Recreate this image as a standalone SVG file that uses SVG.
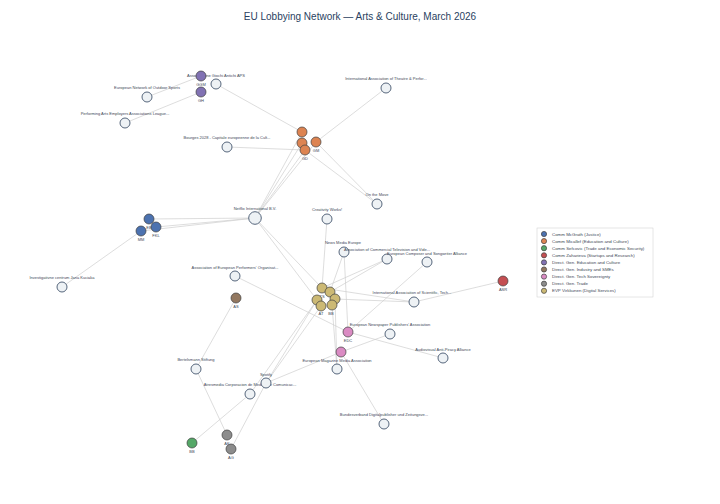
<svg xmlns="http://www.w3.org/2000/svg" width="720" height="504" viewBox="0 0 720 504">
<style>
text{font-family:"Liberation Sans",Arial,sans-serif;}
.title{font-size:10px;fill:#2a3f5f;text-anchor:middle;}
.lbl{font-size:4px;fill:#3d4756;text-anchor:middle;}
.leg{font-size:4.4px;fill:#3d4756;}
.org{fill:#eef2f5;stroke:#56667c;stroke-width:1;}
.off{stroke:#3f3f3f;stroke-width:0.7;}
#edges line{stroke:#cfcfcf;stroke-width:0.7;}
</style>
<rect width="720" height="504" fill="#ffffff"/>
<text class="title" x="360" y="20">EU Lobbying Network — Arts &amp; Culture, March 2026</text>
<g id="edges">
<line x1="201" y1="76" x2="147" y2="97"/>
<line x1="201" y1="92" x2="125" y2="123"/>
<line x1="302" y1="132" x2="216" y2="84"/>
<line x1="316" y1="142" x2="386" y2="88"/>
<line x1="305" y1="150" x2="227" y2="147"/>
<line x1="302" y1="132" x2="255" y2="218"/>
<line x1="302" y1="143" x2="255" y2="218"/>
<line x1="305" y1="150" x2="255" y2="218"/>
<line x1="316" y1="142" x2="255" y2="218"/>
<line x1="305" y1="150" x2="377" y2="204"/>
<line x1="316" y1="142" x2="377" y2="204"/>
<line x1="149" y1="219" x2="255" y2="218"/>
<line x1="156" y1="227" x2="255" y2="218"/>
<line x1="141" y1="231" x2="255" y2="218"/>
<line x1="141" y1="231" x2="62" y2="287"/>
<line x1="322" y1="288" x2="255" y2="218"/>
<line x1="317" y1="300" x2="255" y2="218"/>
<line x1="322" y1="288" x2="327" y2="219"/>
<line x1="330" y1="292" x2="344" y2="252"/>
<line x1="348" y1="332" x2="344" y2="252"/>
<line x1="322" y1="288" x2="387" y2="259"/>
<line x1="330" y1="292" x2="387" y2="259"/>
<line x1="348" y1="332" x2="427" y2="262"/>
<line x1="503" y1="281" x2="414" y2="302"/>
<line x1="322" y1="288" x2="414" y2="302"/>
<line x1="335" y1="299" x2="414" y2="302"/>
<line x1="348" y1="332" x2="235" y2="276"/>
<line x1="348" y1="332" x2="443" y2="358"/>
<line x1="335" y1="299" x2="337" y2="369"/>
<line x1="332" y1="305" x2="337" y2="369"/>
<line x1="341" y1="352" x2="384" y2="424"/>
<line x1="341" y1="352" x2="266" y2="383"/>
<line x1="341" y1="352" x2="390" y2="334"/>
<line x1="317" y1="300" x2="266" y2="383"/>
<line x1="321" y1="306" x2="266" y2="383"/>
<line x1="317" y1="300" x2="250" y2="394"/>
<line x1="231" y1="449" x2="266" y2="383"/>
<line x1="227" y1="435" x2="196" y2="369"/>
<line x1="236" y1="298" x2="196" y2="369"/>
<line x1="192" y1="443" x2="250" y2="394"/>
</g>
<g id="n-aga"><text class="lbl" x="216" y="77">Associazione Giochi Antichi APS</text><circle class="org" cx="216" cy="84" r="5"/></g>
<g id="n-ggm"><circle class="off" cx="201" cy="76" r="5" fill="#8172b3"/><text class="lbl" x="201" y="86">GGM</text></g>
<g id="n-gh"><circle class="off" cx="201" cy="92" r="5" fill="#8172b3"/><text class="lbl" x="201" y="102">GH</text></g>
<g id="n-enos"><text class="lbl" x="147" y="89">European Network of Outdoor Sports</text><circle class="org" cx="147" cy="97" r="5"/></g>
<g id="n-paeal"><text class="lbl" x="125" y="115">Performing Arts Employers Associations League...</text><circle class="org" cx="125" cy="123" r="5"/></g>
<g id="n-bour"><text class="lbl" x="227" y="139">Bourges 2028 - Capitale europeenne de la Cult...</text><circle class="org" cx="227" cy="147" r="5"/></g>
<g id="n-iatp"><text class="lbl" x="386" y="80">International Association of Theatre &amp; Perfor...</text><circle class="org" cx="386" cy="88" r="5"/></g>
<g id="n-o1"><circle class="off" cx="302" cy="132" r="5" fill="#dd8452"/></g>
<g id="n-o2"><circle class="off" cx="302" cy="143" r="5" fill="#dd8452"/></g>
<g id="n-gm"><circle class="off" cx="316" cy="142" r="5" fill="#dd8452"/><text class="lbl" x="316" y="152">GM</text></g>
<g id="n-gd"><circle class="off" cx="305" cy="150" r="5" fill="#dd8452"/><text class="lbl" x="305" y="160">GD</text></g>
<g id="n-otm"><text class="lbl" x="377" y="196">On the Move</text><circle class="org" cx="377" cy="204" r="5"/></g>
<g id="n-nfx"><text class="lbl" x="255" y="210">Netflix International B.V.</text><circle class="org" cx="255" cy="218" r="6.3"/></g>
<g id="n-eb"><text class="lbl" x="149" y="229">EB</text><circle class="off" cx="149" cy="219" r="5" fill="#4c72b0"/></g>
<g id="n-fkl"><circle class="off" cx="156" cy="227" r="5" fill="#4c72b0"/><text class="lbl" x="156" y="237">FKL</text></g>
<g id="n-mm"><circle class="off" cx="141" cy="231" r="5" fill="#4c72b0"/><text class="lbl" x="141" y="241">MM</text></g>
<g id="n-ivc"><text class="lbl" x="62" y="279">Investigativne centrum Jana Kuciaka</text><circle class="org" cx="62" cy="287" r="5"/></g>
<g id="n-cw"><text class="lbl" x="327" y="211">Creativity Works!</text><circle class="org" cx="327" cy="219" r="5"/></g>
<g id="n-nme"><text class="lbl" x="343" y="244">News Media Europe</text><circle class="org" cx="344" cy="252" r="5"/></g>
<g id="n-act"><text class="lbl" x="387" y="251">Association of Commercial Television and Vide...</text><circle class="org" cx="387" cy="259" r="5"/></g>
<g id="n-ecsa"><text class="lbl" x="427" y="255">European Composer and Songwriter Alliance</text><circle class="org" cx="427" cy="262" r="5"/></g>
<g id="n-asr"><circle class="off" cx="503" cy="281" r="5" fill="#c44e52"/><text class="lbl" x="503" y="291">ASR</text></g>
<g id="n-iast"><text class="lbl" x="412" y="294">International Association of Scientific, Tech...</text><circle class="org" cx="414" cy="302" r="5"/></g>
<g id="n-ts"><text class="lbl" x="322" y="298">TS</text><circle class="off" cx="322" cy="288" r="5" fill="#ccb974"/></g>
<g id="n-y2"><circle class="off" cx="330" cy="292" r="5" fill="#ccb974"/></g>
<g id="n-y3"><circle class="off" cx="317" cy="300" r="5" fill="#ccb974"/></g>
<g id="n-y5"><circle class="off" cx="335" cy="299" r="5" fill="#ccb974"/></g>
<g id="n-at"><circle class="off" cx="321" cy="306" r="5" fill="#ccb974"/><text class="lbl" x="321" y="315">AT</text></g>
<g id="n-bby"><circle class="off" cx="332" cy="305" r="5" fill="#ccb974"/><text class="lbl" x="331" y="315">BB</text></g>
<g id="n-enpa"><text class="lbl" x="390" y="326">European Newspaper Publishers' Association</text><circle class="org" cx="390" cy="334" r="5"/></g>
<g id="n-edc"><circle class="off" cx="348" cy="332" r="5" fill="#da8bc3"/><text class="lbl" x="348" y="342">EDC</text></g>
<g id="n-aapa"><text class="lbl" x="443" y="351">Audiovisual Anti-Piracy Alliance</text><circle class="org" cx="443" cy="358" r="5"/></g>
<g id="n-p2"><circle class="off" cx="341" cy="352" r="5" fill="#da8bc3"/></g>
<g id="n-emma"><text class="lbl" x="337" y="362">European Magazine Media Association</text><circle class="org" cx="337" cy="369" r="5"/></g>
<g id="n-bdz"><text class="lbl" x="384" y="416">Bundesverband Digitalpublisher und Zeitungsve...</text><circle class="org" cx="384" cy="424" r="5"/></g>
<g id="n-aepo"><text class="lbl" x="235" y="269">Association of European Performers' Organisat...</text><circle class="org" cx="235" cy="276" r="5"/></g>
<g id="n-as"><circle class="off" cx="236" cy="298" r="5" fill="#937860"/><text class="lbl" x="236" y="308">AS</text></g>
<g id="n-bst"><text class="lbl" x="196" y="361">Bertelsmann Stiftung</text><circle class="org" cx="196" cy="369" r="5"/></g>
<g id="n-atres"><text class="lbl" x="250" y="386">Atresmedia Corporacion de Medios de Comunicac...</text><circle class="org" cx="250" cy="394" r="5"/></g>
<g id="n-spot"><text class="lbl" x="266" y="376">Spotify</text><circle class="org" cx="266" cy="383" r="5"/></g>
<g id="n-bbg"><circle class="off" cx="192" cy="443" r="5" fill="#55a868"/><text class="lbl" x="192" y="453">BB</text></g>
<g id="n-ak"><circle class="off" cx="227" cy="435" r="5" fill="#8c8c8c"/><text class="lbl" x="227" y="445">AK</text></g>
<g id="n-ag"><circle class="off" cx="231" cy="449" r="5" fill="#8c8c8c"/><text class="lbl" x="231" y="459">AG</text></g>
<g id="legend">
<rect x="537" y="228" width="116" height="69" fill="#ffffff" stroke="#cccccc" stroke-width="0.5"/>
<circle class="off" cx="544" cy="234" r="2.6" fill="#4c72b0"/><text class="leg" x="552" y="235.5">Comm McGrath (Justice)</text>
<circle class="off" cx="544" cy="241.1" r="2.6" fill="#dd8452"/><text class="leg" x="552" y="242.6">Comm Micallef (Education and Culture)</text>
<circle class="off" cx="544" cy="248.2" r="2.6" fill="#55a868"/><text class="leg" x="552" y="249.7">Comm Sefcovic (Trade and Economic Security)</text>
<circle class="off" cx="544" cy="255.3" r="2.6" fill="#c44e52"/><text class="leg" x="552" y="256.8">Comm Zaharieva (Startups and Research)</text>
<circle class="off" cx="544" cy="262.4" r="2.6" fill="#8172b3"/><text class="leg" x="552" y="263.9">Direct. Gen. Education and Culture</text>
<circle class="off" cx="544" cy="269.5" r="2.6" fill="#937860"/><text class="leg" x="552" y="271">Direct. Gen. Industry and SMEs</text>
<circle class="off" cx="544" cy="276.6" r="2.6" fill="#da8bc3"/><text class="leg" x="552" y="278.1">Direct. Gen. Tech Sovereignty</text>
<circle class="off" cx="544" cy="283.7" r="2.6" fill="#8c8c8c"/><text class="leg" x="552" y="285.2">Direct. Gen. Trade</text>
<circle class="off" cx="544" cy="290.8" r="2.6" fill="#ccb974"/><text class="leg" x="552" y="292.3">EVP Virkkunen (Digital Services)</text>
</g>
</svg>
